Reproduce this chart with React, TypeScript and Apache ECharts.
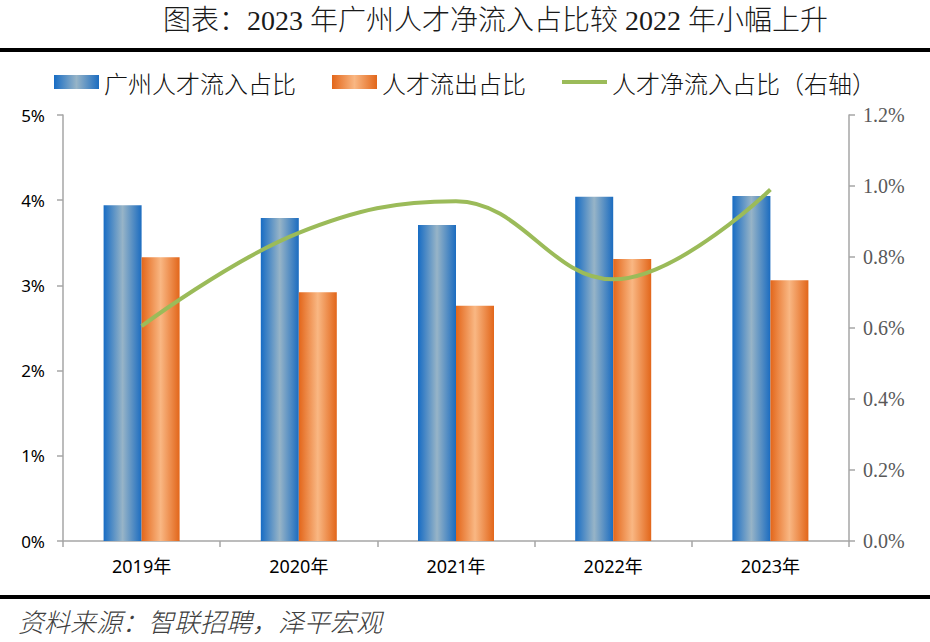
import React, { useEffect, useRef } from "react";
import * as echarts from "echarts";

const categories = ["2019年", "2020年", "2021年", "2022年", "2023年"];
const inflowShare = [3.94, 3.79, 3.71, 4.04, 4.05];
const outflowShare = [3.33, 2.92, 2.76, 3.31, 3.06];
const netInflowShare = [0.605, 0.868, 0.957, 0.737, 0.99];
const seriesNames = ["广州人才流入占比", "人才流出占比", "人才净流入占比（右轴）"];
const titleText = "图表：2023 年广州人才净流入占比较 2022 年小幅上升";
const sourceText = "资料来源：智联招聘，泽平宏观";

const blueGrad = new echarts.graphic.LinearGradient(0, 0, 1, 0, [
  { offset: 0, color: "#176cc4" },
  { offset: 0.5, color: "#97b4c7" },
  { offset: 1, color: "#1b6cc0" },
]);
const orangeGrad = new echarts.graphic.LinearGradient(0, 0, 1, 0, [
  { offset: 0, color: "#e3661a" },
  { offset: 0.5, color: "#f9b783" },
  { offset: 1, color: "#e2661a" },
]);

const axisGray = "#a6a6a6";

export default function App() {
  const ref = useRef<HTMLDivElement>(null);
  useEffect(() => {
    if (!ref.current) return;
    const chart = echarts.init(ref.current, null, { renderer: "svg" });
    chart.setOption({
      animation: false,
      backgroundColor: "#ffffff",
      graphic: [
        {
          type: "text",
          left: 163,
          top: 6,
          style: {
            text: titleText,
            font: '300 28px "Liberation Serif", "Noto Sans CJK SC", serif',
            fill: "#1a1a1a",
          },
        },
        {
          type: "rect",
          shape: { x: 0, y: 48, width: 930, height: 4 },
          style: { fill: "#000" },
        },
        {
          type: "rect",
          shape: { x: 0, y: 595, width: 930, height: 4 },
          style: { fill: "#000" },
        },
        {
          type: "text",
          left: 18,
          top: 607,
          style: {
            text: sourceText,
            font: 'italic 300 26px "Noto Sans CJK SC", sans-serif',
            fill: "#404040",
          },
        },
      ],
      legend: {
        left: 49,
        top: 65,
        itemWidth: 45,
        itemHeight: 14,
        itemGap: 36,
        textStyle: {
          fontSize: 24,
          fontWeight: 300,
          fontFamily: '"Noto Sans CJK SC", sans-serif',
          color: "#111",
          padding: [0, 0, 0, 0],
        },
        data: [
          { name: seriesNames[0], icon: "rect" },
          { name: seriesNames[1], icon: "rect" },
          { name: seriesNames[2], icon: "path://M0,0 H45 V4 H0 Z" },
        ],
      },
      grid: { left: 63, right: 81, top: 115, bottom: 101 },
      xAxis: {
        type: "category",
        data: categories,
        axisLine: { lineStyle: { color: axisGray, width: 1.5 } },
        axisTick: { show: true, length: 6, lineStyle: { color: axisGray, width: 1.5 } },
        axisLabel: {
          color: "#000",
          fontSize: 18,
          fontFamily: '"Noto Sans", "Noto Sans CJK SC", sans-serif',
          margin: 16,
        },
      },
      yAxis: [
        {
          type: "value",
          min: 0,
          max: 5,
          interval: 1,
          splitLine: { show: false },
          axisLine: { show: true, lineStyle: { color: axisGray, width: 1.5 } },
          axisTick: { show: true, length: 6, lineStyle: { color: axisGray, width: 1.5 } },
          axisLabel: {
            formatter: (v: number) => `${v}%`,
            color: "#000",
            fontSize: 17,
            fontFamily: '"Noto Sans", sans-serif',
            margin: 18,
          },
        },
        {
          type: "value",
          min: 0,
          max: 1.2,
          interval: 0.2,
          position: "right",
          splitLine: { show: false },
          axisLine: { show: true, lineStyle: { color: axisGray, width: 1.5 } },
          axisTick: { show: true, length: 6, lineStyle: { color: axisGray, width: 1.5 } },
          axisLabel: {
            formatter: (v: number) => `${v.toFixed(1)}%`,
            color: "#595959",
            fontSize: 20,
            fontFamily: '"Liberation Serif", serif',
            margin: 14,
          },
        },
      ],
      series: [
        {
          name: seriesNames[0],
          type: "bar",
          data: inflowShare,
          barWidth: 38,
          barGap: "0%",
          itemStyle: { color: blueGrad },
        },
        {
          name: seriesNames[1],
          type: "bar",
          data: outflowShare,
          barWidth: 38,
          barGap: "0%",
          itemStyle: { color: orangeGrad },
        },
        {
          name: seriesNames[2],
          type: "line",
          yAxisIndex: 1,
          data: netInflowShare,
          smooth: 0.4,
          symbol: "none",
          lineStyle: { color: "#9bbb59", width: 4 },
          itemStyle: { color: "#9bbb59" },
        },
      ],
    });
    return () => chart.dispose();
  }, []);
  return (
    <div
      ref={ref}
      style={{ position: "fixed", left: 0, top: 0, width: 930, height: 642 }}
    />
  );
}
